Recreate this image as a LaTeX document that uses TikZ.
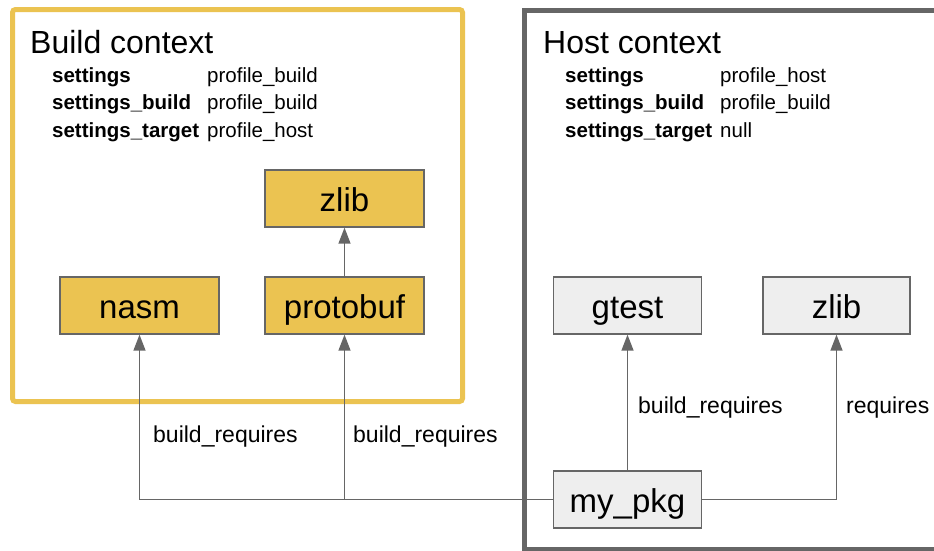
\documentclass[tikz,border=0pt]{standalone}
\usepackage{fontspec}
\setmainfont{Liberation Sans}
\usepackage{xcolor}
\usetikzlibrary{arrows.meta, positioning}

\definecolor{ctxyellow}{HTML}{EBC351}
\definecolor{ctxgray}{HTML}{666666}
\definecolor{pkggray}{HTML}{EEEEEE}
\definecolor{linegray}{HTML}{666666}

\begin{document}
\begin{tikzpicture}[x=1pt, y=-1pt,
        pkg/.style={draw=linegray, line width=1.3pt, minimum width=148pt, minimum height=57pt,
                    inner sep=0pt, text height=30pt, text depth=5pt, font=\fontsize{33}{38}\selectfont},
        buildpkg/.style={pkg, fill=ctxyellow, minimum width=159pt},
        hostpkg/.style={pkg, fill=pkggray},
        title/.style={anchor=base west, inner sep=0pt, font=\fontsize{32}{36}\selectfont},
        setkey/.style={anchor=base west, inner sep=0pt, font=\fontsize{20.5}{24}\selectfont\bfseries},
        setval/.style={anchor=base west, inner sep=0pt, font=\fontsize{20.5}{24}\selectfont},
        req/.style={draw=linegray, line width=1.4pt, -{Triangle[length=16pt, width=12pt]}},
        reqlabel/.style={anchor=base west, inner sep=0pt, font=\fontsize{23}{26}\selectfont}]
    \useasboundingbox (0,0) rectangle (934,550);
    \clip (0,0) rectangle (934,550);

    % context frames
    \draw[ctxyellow, line width=5pt, rounded corners=3pt] (12.5,9.5) rectangle (462.5,401.5);
    \draw[ctxgray, line width=5pt] (524,10.5) rectangle (945,549.5);

    % build context
    \node[title] (buildtitle) at (30,53) {Build context};
    \node[setkey] (bkey1) at (52,82) {settings};
    \node[setkey] (bkey2) at (52,109) {settings\_build};
    \node[setkey] (bkey3) at (52,137) {settings\_target};
    \node[setval] (bval1) at (207,82) {profile\_build};
    \node[setval] (bval2) at (207,109) {profile\_build};
    \node[setval] (bval3) at (207,137) {profile\_host};

    % host context
    \node[title] (hosttitle) at (543,53) {Host context};
    \node[setkey] (hkey1) at (565,82) {settings};
    \node[setkey] (hkey2) at (565,109) {settings\_build};
    \node[setkey] (hkey3) at (565,137) {settings\_target};
    \node[setval] (hval1) at (720,82) {profile\_host};
    \node[setval] (hval2) at (720,109) {profile\_build};
    \node[setval] (hval3) at (720,137) {null};

    % packages
    \node[buildpkg] (zlibbuild) at (344.5,198.5) {zlib};
    \node[buildpkg] (nasm) at (139.5,305.5) {nasm};
    \node[buildpkg] (protobuf) at (344.5,305.5) {protobuf};
    \node[hostpkg] (gtest) at (627.5,305.5) {gtest};
    \node[hostpkg, minimum width=147pt] (zlibhost) at (836.5,305.5) {zlib};
    \node[hostpkg] (mypkg) at (627.5,499.5) {my\_pkg};

    % requirements
    \draw[req] (mypkg.west) -| (nasm.south);
    \draw[req] (mypkg.west -| protobuf.south) -- (protobuf.south);
    \draw[req] (protobuf.north) -- (zlibbuild.south);
    \draw[req] (mypkg.north) -- (gtest.south);
    \draw[req] (mypkg.east) -| (zlibhost.south);

    \node[reqlabel] (lblnasm) at (153,442) {build\_requires};
    \node[reqlabel] (lblproto) at (353,442) {build\_requires};
    \node[reqlabel] (lblgtest) at (638,413) {build\_requires};
    \node[reqlabel] (lblzlib) at (846,413) {requires};
\end{tikzpicture}
\end{document}
